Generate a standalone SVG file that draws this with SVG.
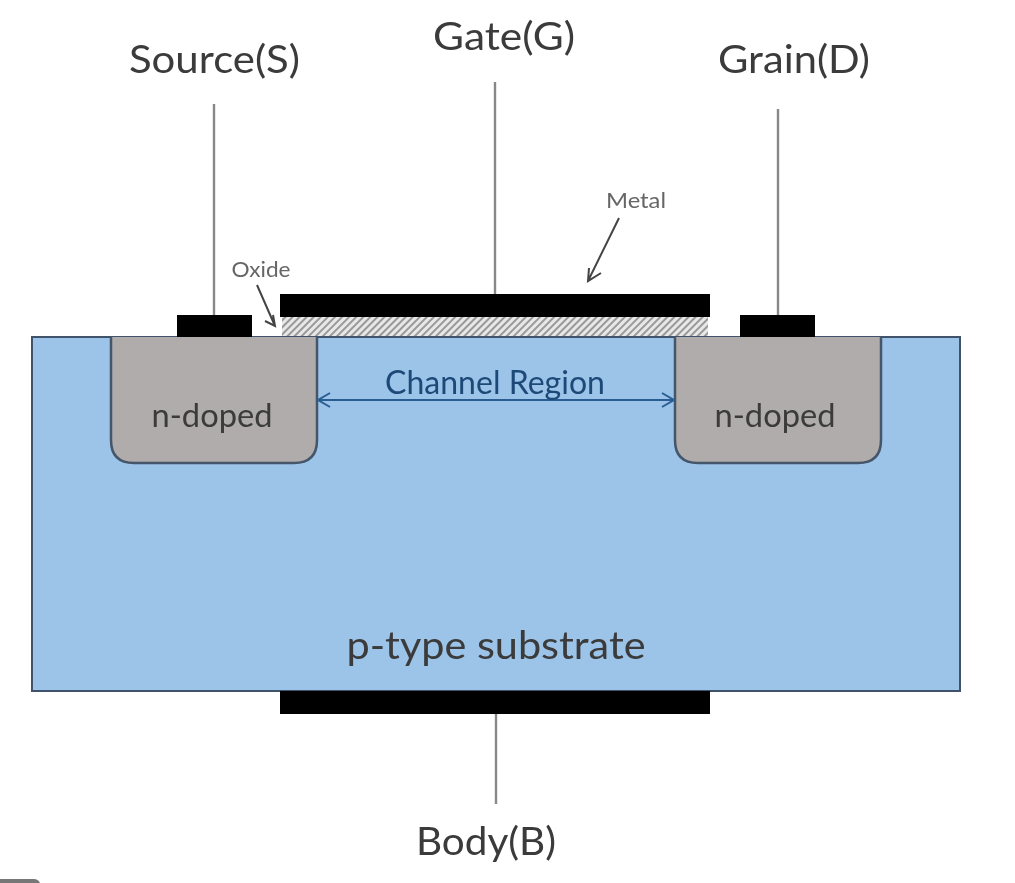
<svg xmlns="http://www.w3.org/2000/svg" width="1015" height="883" viewBox="0 0 1015 883">
<style>
text{font-family:Lato,"Open Sans","Liberation Sans",sans-serif;text-anchor:middle}
.t{font-size:39px;fill:#3a3a3a}
.r{font-size:32px;fill:#3a3a3a}
.c{font-size:32px;fill:#1f4a78}
.s{font-size:21px;fill:#666}
.m{fill:#000}
.w{stroke:#888;stroke-width:2.4;fill:none}
.a{stroke:#444;stroke-width:2;fill:none}
.d{fill:#b0acab;stroke:#44546a;stroke-width:2.5}
</style>
<defs>
<pattern id="h" width="5" height="5" patternUnits="userSpaceOnUse" patternTransform="rotate(45)">
<rect width="5" height="5" fill="#e8e8e8"/><rect width="2" height="5" fill="#999"/>
</pattern>
<filter id="b" x="-2%" y="-2%" width="104%" height="104%"><feGaussianBlur stdDeviation="0.7"/></filter>
</defs>
<rect width="1015" height="883" fill="#fff"/>
<g filter="url(#b)">
<g id="substrate">
<rect x="32" y="337" width="928" height="354" fill="#9cc3e8" stroke="#41536b" stroke-width="2"/>
<text class="t" x="496" y="659" textLength="299" lengthAdjust="spacingAndGlyphs">p-type substrate</text>
</g>
<g id="source-doped">
<path class="d" d="M111 337V440Q111 463 134 463H294Q317 463 317 440V337"/>
<text class="r" x="212" y="427" textLength="121" lengthAdjust="spacingAndGlyphs">n-doped</text>
</g>
<g id="drain-doped">
<path class="d" d="M675 337V440Q675 463 698 463H858Q881 463 881 440V337"/>
<text class="r" x="775" y="427" textLength="121" lengthAdjust="spacingAndGlyphs">n-doped</text>
</g>
<g id="source-contact"><rect class="m" x="177" y="315" width="75" height="22"/></g>
<g id="drain-contact"><rect class="m" x="740" y="315" width="75" height="22"/></g>
<g id="oxide-layer"><rect x="282" y="317" width="426" height="19" fill="url(#h)"/></g>
<g id="gate-metal"><rect class="m" x="280" y="294" width="430" height="23"/></g>
<g id="body-contact"><rect class="m" x="280" y="691" width="430" height="23"/></g>
<g id="connectors">
<line class="w" x1="214" y1="104" x2="214" y2="315"/>
<line class="w" x1="495" y1="82" x2="495" y2="294"/>
<line class="w" x1="778" y1="109" x2="778" y2="315"/>
<line class="w" x1="496" y1="714" x2="496" y2="804"/>
<path class="a" d="M257 285L275 326M273 315L275 326L265 321"/>
<path class="a" d="M619 218L588 281M589 268L588 281L601 273"/>
<path d="M318 400H674M330 393L318 400L330 407M662 393L674 400L662 407" stroke="#2b5d92" stroke-width="2" fill="none"/>
</g>
<g id="labels">
<text class="t" x="214.500" y="73" textLength="171" lengthAdjust="spacingAndGlyphs">Source(S)</text>
<text class="t" x="504" y="50" textLength="142" lengthAdjust="spacingAndGlyphs">Gate(G)</text>
<text class="t" x="794" y="73" textLength="152" lengthAdjust="spacingAndGlyphs">Grain(D)</text>
<text class="t" x="486" y="855" textLength="140" lengthAdjust="spacingAndGlyphs">Body(B)</text>
<text class="c" x="495" y="394" textLength="220" lengthAdjust="spacingAndGlyphs">Channel Region</text>
<text class="s" x="636" y="208" textLength="60" lengthAdjust="spacingAndGlyphs">Metal</text>
<text class="s" x="261" y="277" textLength="59" lengthAdjust="spacingAndGlyphs">Oxide</text>
</g>
</g>
<path d="M0 883V879H34Q38 879 40 883Z" fill="#777"/>
</svg>
